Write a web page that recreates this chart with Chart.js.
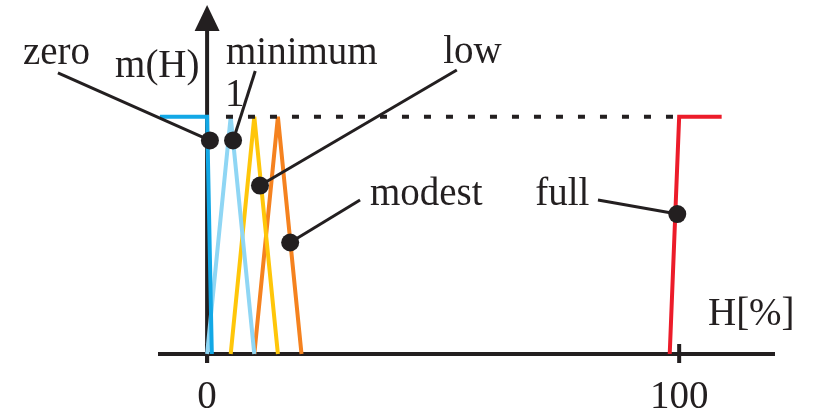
<!DOCTYPE html>
<html>
<head>
<meta charset="utf-8">
<script src="https://cdn.jsdelivr.net/npm/chart.js@4/dist/chart.umd.min.js"></script>
<style>
  html, body { margin: 0; padding: 0; background: #ffffff; }
  #wrap { width: 813px; height: 415px; }
</style>
</head>
<body>
<div id="wrap"><canvas id="c" width="813" height="415"></canvas></div>
<script>
// Membership functions m(H) of the fuzzy sets over H[%]
const zeroH    = [-10, 0, 1];
const zeroM    = [1, 1, 0];
const minimumH = [0, 5, 10];
const minimumM = [0, 1, 0];
const lowH     = [5, 10, 15];
const lowM     = [0, 1, 0];
const modestH  = [10, 15, 20];
const modestM  = [0, 1, 0];
const fullH    = [98, 100, 109];
const fullM    = [0, 1, 1];

// Reference level m = 1
const levelH = [4, 100];
const levelM = [1, 1];

// Axis ticks
const xTicks = [0, 100];
const xTickLabels = ['0', '100'];

const INK = '#231f20';
const FONT = '39px "Liberation Serif", "DejaVu Serif", serif';

const pts = (xs, ys) => xs.map((x, i) => ({ x: x, y: ys[i] }));

// Labels with leader lines pointing at each curve (data coordinates)
const callouts = [
  { text: 'zero',    tx: -39.0, ty: 1.223, lx: -31.6, ly: 1.185, dx: 0.6,  dy: 0.90 },
  { text: 'minimum', tx: 4.0,   ty: 1.223, lx: 10.2,  ly: 1.193, dx: 5.5,  dy: 0.90 },
  { text: 'low',     tx: 50.0,  ty: 1.227, lx: 52.9,  ly: 1.197, dx: 11.2, dy: 0.71 },
  { text: 'modest',  tx: 34.5,  ty: 0.628, lx: 32.4,  ly: 0.649, dx: 17.6, dy: 0.47 },
  { text: 'full',    tx: 69.5,  ty: 0.628, lx: 82.8,  ly: 0.649, dx: 99.6, dy: 0.59 }
];
const plainLabels = [
  { text: 'm(H)', tx: -19.5, ty: 1.168 },
  { text: '1',    tx: 3.8,   ty: 1.046 },
  { text: 'H[%]', tx: 106.1, ty: 0.122 }
];

const axesPlugin = {
  id: 'axesPlugin',
  beforeDatasetsDraw(chart) {
    const ctx = chart.ctx;
    const xs = chart.scales.x, ys = chart.scales.y;
    const x0 = xs.getPixelForValue(0);
    const y0 = ys.getPixelForValue(0);
    ctx.save();
    ctx.strokeStyle = INK;
    ctx.fillStyle = INK;
    ctx.lineCap = 'butt';
    // horizontal axis
    ctx.lineWidth = 4;
    ctx.beginPath();
    ctx.moveTo(chart.chartArea.left, y0);
    ctx.lineTo(chart.chartArea.right, y0);
    ctx.stroke();
    // vertical axis with arrow head
    const tipY = ys.getPixelForValue(1.471);
    ctx.beginPath();
    ctx.moveTo(x0, y0 + 9);
    ctx.lineTo(x0, tipY + 24);
    ctx.stroke();
    ctx.beginPath();
    ctx.moveTo(x0, tipY);
    ctx.lineTo(x0 - 12.5, tipY + 26);
    ctx.lineTo(x0 + 12.5, tipY + 26);
    ctx.closePath();
    ctx.fill();
    // ticks and tick labels
    ctx.font = FONT;
    ctx.textAlign = 'center';
    ctx.textBaseline = 'alphabetic';
    xTicks.forEach((v, i) => {
      const px = xs.getPixelForValue(v);
      ctx.beginPath();
      ctx.moveTo(px, y0 - 10);
      ctx.lineTo(px, y0 + 9);
      ctx.stroke();
      ctx.fillText(xTickLabels[i], px, y0 + 54);
    });
    ctx.restore();
  },
  afterDatasetsDraw(chart) {
    const ctx = chart.ctx;
    const xs = chart.scales.x, ys = chart.scales.y;
    const X = v => xs.getPixelForValue(v), Y = v => ys.getPixelForValue(v);
    ctx.save();
    ctx.strokeStyle = INK;
    ctx.fillStyle = INK;
    ctx.lineWidth = 3;
    ctx.font = FONT;
    ctx.textAlign = 'left';
    ctx.textBaseline = 'alphabetic';
    callouts.forEach(c => {
      ctx.beginPath();
      ctx.moveTo(X(c.lx), Y(c.ly));
      ctx.lineTo(X(c.dx), Y(c.dy));
      ctx.stroke();
      ctx.beginPath();
      ctx.arc(X(c.dx), Y(c.dy), 9, 0, Math.PI * 2);
      ctx.fill();
      ctx.fillText(c.text, X(c.tx), Y(c.ty));
    });
    plainLabels.forEach(l => ctx.fillText(l.text, X(l.tx), Y(l.ty)));
    ctx.restore();
  }
};

const lineSet = (data, color, extra) => Object.assign({
  data: data,
  showLine: true,
  borderColor: color,
  backgroundColor: color,
  borderWidth: 4,
  pointRadius: 0,
  borderJoinStyle: 'miter',
  tension: 0,
  clip: false
}, extra || {});

new Chart(document.getElementById('c'), {
  type: 'scatter',
  data: {
    datasets: [
      lineSet(pts(levelH, levelM), INK, { borderDash: [7, 15], borderCapStyle: 'butt' }),
      lineSet(pts(zeroH, zeroM), '#12a8e6'),
      lineSet(pts(minimumH, minimumM), '#8fd6f4'),
      lineSet(pts(lowH, lowM), '#ffc60a'),
      lineSet(pts(modestH, modestM), '#f5821f'),
      lineSet(pts(fullH, fullM), '#ec1c2a')
    ]
  },
  options: {
    responsive: false,
    animation: false,
    layout: { padding: { left: 158, right: 38, top: 10, bottom: 61 } },
    plugins: { legend: { display: false }, tooltip: { enabled: false } },
    scales: {
      x: { type: 'linear', min: -10.4, max: 120.3, display: false },
      y: { type: 'linear', min: 0, max: 1.45, display: false }
    }
  },
  plugins: [axesPlugin]
});
</script>
</body>
</html>
